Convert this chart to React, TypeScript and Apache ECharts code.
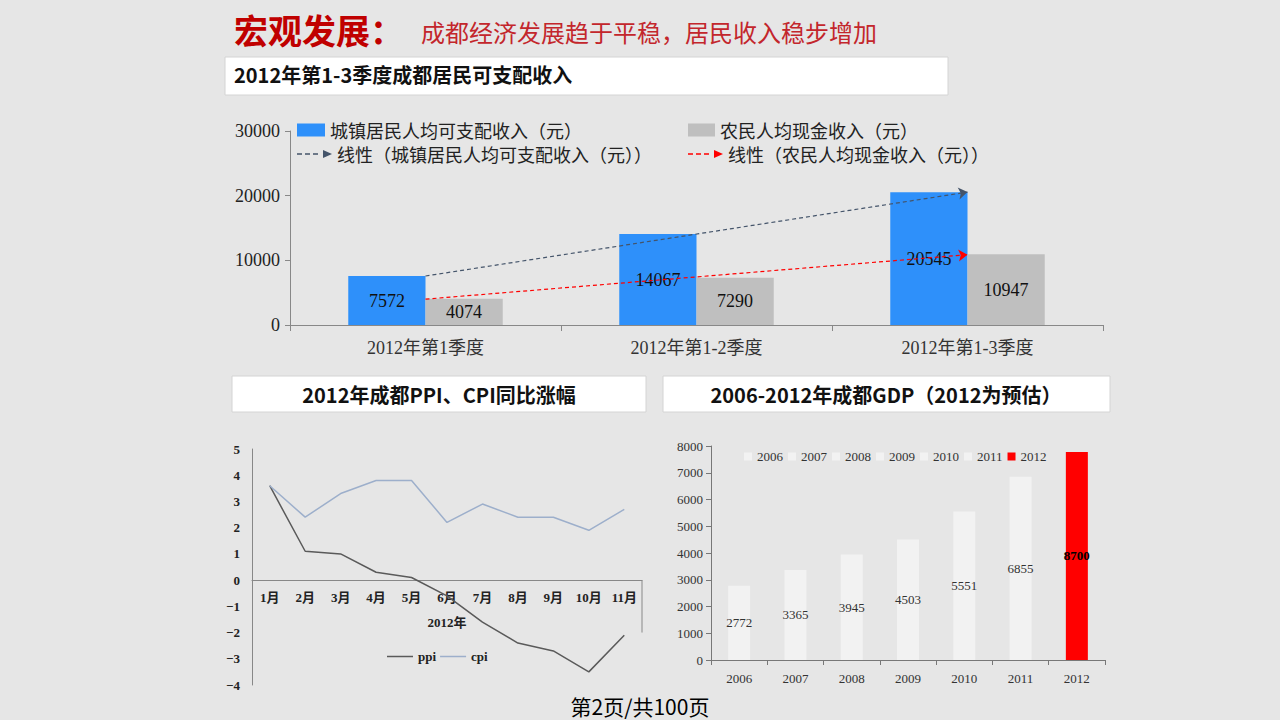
import React, { useEffect, useRef } from "react";
import * as echarts from "echarts";

// ---- data ----
const quarterCategories = ["2012年第1季度", "2012年第1-2季度", "2012年第1-3季度"];
const urbanIncome = [7572, 14067, 20545];
const ruralIncome = [4074, 7290, 10947];
const urbanTrendEnds = [7575, 20548];
const ruralTrendEnds = [4000, 10874];
const incomeSeriesNames = ["城镇居民人均可支配收入（元）", "农民人均现金收入（元）"];
const trendSeriesNames = ["线性（城镇居民人均可支配收入（元））", "线性（农民人均现金收入（元））"];

const months = ["1月", "2月", "3月", "4月", "5月", "6月", "7月", "8月", "9月", "10月", "11月"];
const ppi = [3.6, 1.1, 1.0, 0.3, 0.1, -0.6, -1.6, -2.4, -2.7, -3.5, -2.1];
const cpi = [3.6, 2.4, 3.3, 3.8, 3.8, 2.2, 2.9, 2.4, 2.4, 1.9, 2.7];
const rateMin = -4;
const rateMax = 5;

const gdpYears = ["2006", "2007", "2008", "2009", "2010", "2011", "2012"];
const gdpBars = [2772, 3365, 3945, 4503, 5551, 6855, 7780];
const gdpLabels = ["2772", "3365", "3945", "4503", "5551", "6855", "8700"];

const SERIF = '"Liberation Serif", "Noto Sans CJK SC", serif';
const CJK = '"Noto Sans CJK SC", sans-serif';
const BG = "#E6E6E6";
const TREND_ICON =
  "path://M0,4.3h5v1.4h-5z M8,4.3h5v1.4h-5z M16,4.3h5v1.4h-5z M26,1L35,5L26,9z";

const LINE_GRID = { left: 252, top: 449, width: 390, height: 236 };

export default function App() {
  const ref = useRef<HTMLDivElement>(null);

  useEffect(() => {
    document.body.style.margin = "0";
    const chart = echarts.init(ref.current!, null, { renderer: "svg" });

    const gdpSeries = gdpYears.map((y, i) => ({
      type: "bar",
      name: y,
      stack: "gdp",
      xAxisIndex: 2,
      yAxisIndex: 2,
      barWidth: 22,
      data: gdpBars.map((v, j) => (j === i ? v : "-")),
      itemStyle: { color: i === gdpYears.length - 1 ? "#FF0000" : "#F2F2F2" },
      label: {
        show: true,
        position: "inside",
        formatter: (p: any) => gdpLabels[p.dataIndex],
        fontFamily: SERIF,
        fontSize: 13,
        color: i === gdpYears.length - 1 ? "#000" : "#333",
        fontWeight: i === gdpYears.length - 1 ? "bold" : "normal",
      },
    }));

    const zeroOffset = (LINE_GRID.height * (0 - rateMin)) / (rateMax - rateMin);
    const plain = (v: number) => String(v);

    const option: any = {
      animation: false,
      backgroundColor: BG,
      textStyle: { fontFamily: SERIF },
      grid: [
        { left: 290, top: 131, width: 813, height: 194, outerBoundsMode: "none" },
        { ...LINE_GRID, outerBoundsMode: "none" },
        { left: 711, top: 446, width: 394, height: 214, outerBoundsMode: "none" },
      ],
      legend: [
        {
          data: [incomeSeriesNames[0]],
          left: 292,
          top: 116,
          icon: "rect",
          itemWidth: 28,
          itemHeight: 13,
          textStyle: { fontFamily: CJK, fontSize: 18, color: "#222" },
        },
        {
          data: [{ name: trendSeriesNames[0], icon: TREND_ICON, itemStyle: { color: "#44546A" } }],
          left: 292,
          top: 140,
          itemWidth: 35,
          itemHeight: 9,
          textStyle: { fontFamily: CJK, fontSize: 18, color: "#222" },
        },
        {
          data: [incomeSeriesNames[1]],
          left: 683,
          top: 116,
          icon: "rect",
          itemWidth: 27,
          itemHeight: 13,
          textStyle: { fontFamily: CJK, fontSize: 18, color: "#222" },
        },
        {
          data: [{ name: trendSeriesNames[1], icon: TREND_ICON, itemStyle: { color: "#FF0000" } }],
          left: 683,
          top: 140,
          itemWidth: 35,
          itemHeight: 9,
          textStyle: { fontFamily: CJK, fontSize: 18, color: "#222" },
        },
        {
          data: [
            { name: "ppi", icon: "rect" },
            { name: "cpi", icon: "rect" },
          ],
          left: 382,
          top: 645,
          itemWidth: 26,
          itemHeight: 1.5,
          itemGap: 4,
          textStyle: { fontFamily: SERIF, fontSize: 13, fontWeight: "bold", color: "#222" },
        },
        {
          data: gdpYears,
          left: 739,
          top: 445,
          icon: "rect",
          itemWidth: 8,
          itemHeight: 8,
          itemGap: 5,
          textStyle: { fontFamily: SERIF, fontSize: 13, color: "#333" },
        },
      ],
      xAxis: [
        {
          type: "category",
          gridIndex: 0,
          data: quarterCategories,
          axisLine: { lineStyle: { color: "#888" } },
          axisTick: { show: true, length: 6, lineStyle: { color: "#888" } },
          axisLabel: { fontFamily: SERIF, fontSize: 18, color: "#333", margin: 14 },
        },
        {
          type: "category",
          gridIndex: 1,
          data: months,
          position: "bottom",
          offset: -zeroOffset,
          axisLine: { onZero: false, lineStyle: { color: "#888" } },
          axisTick: { show: false },
          axisLabel: { fontFamily: SERIF, fontSize: 13, fontWeight: "bold", color: "#222", margin: 11 },
          name: "2012年",
          nameLocation: "middle",
          nameGap: 36,
          nameTextStyle: { fontFamily: SERIF, fontSize: 13, fontWeight: "bold", color: "#222" },
        },
        {
          type: "category",
          gridIndex: 2,
          data: gdpYears,
          axisLine: { lineStyle: { color: "#777" } },
          axisTick: { show: true, length: 5, lineStyle: { color: "#777" } },
          axisLabel: { fontFamily: SERIF, fontSize: 13, color: "#333", margin: 12 },
        },
      ],
      yAxis: [
        {
          type: "value",
          gridIndex: 0,
          min: 0,
          max: 30000,
          interval: 10000,
          splitLine: { show: false },
          axisLine: { show: true, lineStyle: { color: "#888" } },
          axisTick: { show: true, length: 5, lineStyle: { color: "#888" } },
          axisLabel: { fontFamily: SERIF, fontSize: 18, color: "#222", margin: 10, formatter: plain },
        },
        {
          type: "value",
          gridIndex: 1,
          min: rateMin,
          max: rateMax,
          interval: 1,
          splitLine: { show: false },
          axisLine: { show: true, onZero: false, lineStyle: { color: "#888" } },
          axisTick: { show: false },
          axisLabel: {
            fontFamily: SERIF,
            fontSize: 13,
            fontWeight: "bold",
            color: "#222",
            margin: 12,
            formatter: (v: number) => (v < 0 ? "\u2212" + Math.abs(v) : String(v)),
          },
        },
        {
          type: "value",
          gridIndex: 2,
          min: 0,
          max: 8000,
          interval: 1000,
          splitLine: { show: false },
          axisLine: { show: true, lineStyle: { color: "#777" } },
          axisTick: { show: true, length: 5, lineStyle: { color: "#777" } },
          axisLabel: { fontFamily: SERIF, fontSize: 13, color: "#333", margin: 8, formatter: plain },
        },
      ],
      series: [
        {
          type: "bar",
          name: incomeSeriesNames[0],
          data: urbanIncome,
          barWidth: "28.5%",
          barGap: "0%",
          itemStyle: { color: "#2E90FA" },
          label: { show: true, position: "inside", fontFamily: SERIF, fontSize: 18, color: "#111" },
        },
        {
          type: "bar",
          name: incomeSeriesNames[1],
          data: ruralIncome,
          barWidth: "28.5%",
          barGap: "0%",
          itemStyle: { color: "#BFBFBF" },
          label: { show: true, position: "inside", fontFamily: SERIF, fontSize: 18, color: "#111" },
        },
        {
          type: "line",
          name: trendSeriesNames[0],
          data: [],
          symbol: "none",
          itemStyle: { color: "#44546A" },
          lineStyle: { color: "#44546A" },
          markLine: {
            silent: true,
            symbol: ["none", "arrow"],
            symbolSize: 9,
            label: { show: false },
            lineStyle: { type: [4, 3], color: "#44546A", width: 1.2 },
            data: [
              [
                { coord: [quarterCategories[0], urbanTrendEnds[0]] },
                { coord: [quarterCategories[2], urbanTrendEnds[1]] },
              ],
            ],
          },
        },
        {
          type: "line",
          name: trendSeriesNames[1],
          data: [],
          symbol: "none",
          itemStyle: { color: "#FF0000" },
          lineStyle: { color: "#FF0000" },
          markLine: {
            silent: true,
            symbol: ["none", "arrow"],
            symbolSize: 9,
            label: { show: false },
            lineStyle: { type: [4, 3], color: "#FF0000", width: 1.2 },
            data: [
              [
                { coord: [quarterCategories[0], ruralTrendEnds[0]] },
                { coord: [quarterCategories[2], ruralTrendEnds[1]] },
              ],
            ],
          },
        },
        {
          type: "line",
          name: "ppi",
          xAxisIndex: 1,
          yAxisIndex: 1,
          data: ppi,
          symbol: "none",
          itemStyle: { color: "#5A5A5A" },
          lineStyle: { color: "#5A5A5A", width: 1.5 },
        },
        {
          type: "line",
          name: "cpi",
          xAxisIndex: 1,
          yAxisIndex: 1,
          data: cpi,
          symbol: "none",
          itemStyle: { color: "#9DAFCB" },
          lineStyle: { color: "#9DAFCB", width: 1.5 },
        },
        ...gdpSeries,
      ],
      graphic: [
        {
          type: "text",
          left: 234,
          top: 12,
          style: { text: "宏观发展：", font: `bold 34px ${CJK}`, fill: "#C00000" },
        },
        {
          type: "text",
          left: 421,
          top: 19,
          style: { text: "成都经济发展趋于平稳，居民收入稳步增加", font: `24px ${CJK}`, fill: "#C3262C" },
        },
        {
          type: "rect",
          shape: { x: 225, y: 57, width: 723, height: 38 },
          style: { fill: "#FFFFFF", stroke: "#D4D4D4" },
        },
        {
          type: "text",
          left: 234,
          top: 64,
          style: { text: "2012年第1-3季度成都居民可支配收入", font: `bold 20px ${CJK}`, fill: "#111" },
        },
        {
          type: "rect",
          shape: { x: 232, y: 376, width: 414, height: 36 },
          style: { fill: "#FFFFFF", stroke: "#D4D4D4" },
        },
        {
          type: "text",
          x: 439,
          y: 394,
          style: {
            text: "2012年成都PPI、CPI同比涨幅",
            font: `bold 20px ${CJK}`,
            fill: "#111",
            align: "center",
            verticalAlign: "middle",
          },
        },
        {
          type: "rect",
          shape: { x: 663, y: 376, width: 447, height: 36 },
          style: { fill: "#FFFFFF", stroke: "#D4D4D4" },
        },
        {
          type: "text",
          x: 886,
          y: 394,
          style: {
            text: "2006-2012年成都GDP（2012为预估）",
            font: `bold 20px ${CJK}`,
            fill: "#111",
            align: "center",
            verticalAlign: "middle",
          },
        },
        {
          type: "text",
          x: 640,
          y: 706,
          style: {
            text: "第2页/共100页",
            font: `21px ${CJK}`,
            fill: "#000",
            align: "center",
            verticalAlign: "middle",
          },
        },
      ],
    };

    chart.setOption(option);

    // right-hand border stub of the PPI/CPI plot (from 0 down to -2)
    const top = chart.convertToPixel({ xAxisIndex: 1, yAxisIndex: 1 } as any, [months[0], 0]) as number[];
    const bot = chart.convertToPixel({ xAxisIndex: 1, yAxisIndex: 1 } as any, [months[0], -2]) as number[];
    const rightX = LINE_GRID.left + LINE_GRID.width;
    chart.setOption({
      graphic: [
        ...option.graphic,
        {
          type: "line",
          shape: { x1: rightX, y1: top[1], x2: rightX, y2: bot[1] },
          style: { stroke: "#888", lineWidth: 1 },
        },
      ],
    });

    return () => chart.dispose();
  }, []);

  return (
    <div
      ref={ref}
      style={{ position: "absolute", left: 0, top: 0, width: 1280, height: 720, background: BG }}
    />
  );
}
